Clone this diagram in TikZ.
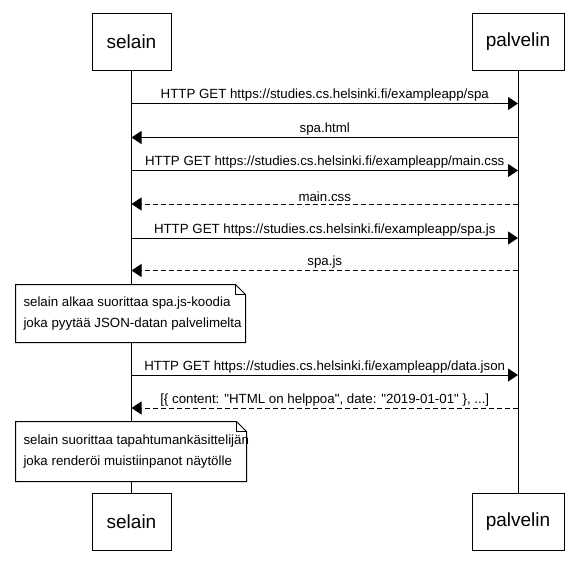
\documentclass[tikz,border=0pt]{standalone}
\usepackage{fontspec}
% plain family: no TeX ligature mapping, so " stays a straight quote
\newfontfamily\lsans{Liberation Sans}
\usetikzlibrary{arrows.meta}
\begin{document}
\begin{tikzpicture}[x=1pt,y=-1pt,line width=1pt,
  actor/.style={draw,line width=1pt,minimum width=79pt,minimum height=57pt,inner sep=0pt,font=\lsans\fontsize{19}{22}\selectfont},
  msg/.style={line width=1pt,-{Triangle[length=10pt,width=13pt]}},
  reply/.style={msg,dash pattern=on 5pt off 3pt},
  lbl/.style={anchor=south,inner sep=0pt,yshift=1.5pt,font=\lsans\fontsize{13.3}{15}\selectfont},
  notetext/.style={inner sep=0pt,align=left,font=\lsans\fontsize{13.3}{21}\selectfont},
  fold/.style={draw,line width=1pt,line join=miter}
]
\useasboundingbox (0,0) rectangle (578,562);

% participants
\node[actor] (selainTop) at (131.5,41.5) {selain};
\node[actor,minimum width=92pt] (palvelinTop) at (518,41.5) {palvelin};
\node[actor] (selainBot) at (131.5,521.5) {selain};
\node[actor,minimum width=92pt] (palvelinBot) at (518,521.5) {palvelin};

% lifelines
\draw (selainTop.south) -- (selainBot.north);
\draw (palvelinTop.south) -- (palvelinBot.north);

% message anchors on the lifelines
\foreach \i/\y in {1/103.5,2/137.5,3/170.5,4/204,5/238,6/270.5,7/375,8/408}{
  \coordinate (s\i) at (131.5,\y);
  \coordinate (p\i) at (518,\y);
}

\draw[msg] (s1) -- (p1) node[lbl,midway] {HTTP GET https://studies.cs.helsinki.fi/exampleapp/spa};
\draw[msg] (p2) -- (s2) node[lbl,midway] {spa.html};
\draw[msg] (s3) -- (p3) node[lbl,midway] {HTTP GET https://studies.cs.helsinki.fi/exampleapp/main.css};
\draw[reply] (p4) -- (s4) node[lbl,midway] {main.css};
\draw[msg] (s5) -- (p5) node[lbl,midway] {HTTP GET https://studies.cs.helsinki.fi/exampleapp/spa.js};
\draw[reply] (p6) -- (s6) node[lbl,midway] {spa.js};
\draw[msg] (s7) -- (p7) node[lbl,midway] {HTTP GET https://studies.cs.helsinki.fi/exampleapp/data.json};
\draw[reply] (p8) -- (s8) node[lbl,midway] {[\{ content: "HTML on helppoa", date: "2019-01-01" \}, ...]};

% notes
\node[minimum width=229pt,minimum height=57pt,inner sep=0pt] (note1) at (130.5,313.5) {};
\fill[white] (note1.south west) rectangle (note1.north east);
\draw[fold] (note1.south west) -- (note1.north west) -- ([xshift=-10pt]note1.north east)
  -- ([yshift=-10pt]note1.north east) -- (note1.south east) -- cycle;
\draw[fold] ([xshift=-10pt]note1.north east) -- ([xshift=-10pt,yshift=-10pt]note1.north east)
  -- ([yshift=-10pt]note1.north east);
\node[notetext,anchor=west] (note1text) at (23,314) {selain alkaa suorittaa spa.js-koodia\\joka pyytää JSON-datan palvelimelta};

\node[minimum width=230pt,minimum height=59pt,inner sep=0pt] (note2) at (131,451.5) {};
\fill[white] (note2.south west) rectangle (note2.north east);
\draw[fold] (note2.south west) -- (note2.north west) -- ([xshift=-10pt]note2.north east)
  -- ([yshift=-10pt]note2.north east) -- (note2.south east) -- cycle;
\draw[fold] ([xshift=-10pt]note2.north east) -- ([xshift=-10pt,yshift=-10pt]note2.north east)
  -- ([yshift=-10pt]note2.north east);
\node[notetext,anchor=west] (note2text) at (23,452) {selain suorittaa tapahtumankäsittelijän\\joka renderöi muistiinpanot näytölle};
\end{tikzpicture}
\end{document}
